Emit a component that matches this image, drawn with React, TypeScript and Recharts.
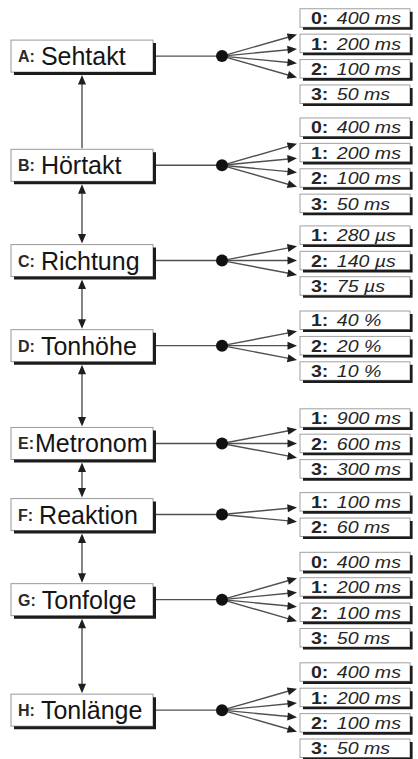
import React from "react";
import { ComposedChart, Scatter, XAxis, YAxis } from "recharts";

// ---------- data ----------
const groupLetters = ["A", "B", "C", "D", "E", "F", "G", "H"];
const groupNames = ["Sehtakt", "Hörtakt", "Richtung", "Tonhöhe", "Metronom", "Reaktion", "Tonfolge", "Tonlänge"];
const labelSpaced = [true, true, true, true, false, true, true, true];
const optionCodes = [
  ["0", "1", "2", "3"],
  ["0", "1", "2", "3"],
  ["1", "2", "3"],
  ["1", "2", "3"],
  ["1", "2", "3"],
  ["1", "2"],
  ["0", "1", "2", "3"],
  ["0", "1", "2", "3"],
];
const optionValues = [
  ["400 ms", "200 ms", "100 ms", "50 ms"],
  ["400 ms", "200 ms", "100 ms", "50 ms"],
  ["280 µs", "140 µs", "75 µs"],
  ["40 %", "20 %", "10 %"],
  ["900 ms", "600 ms", "300 ms"],
  ["100 ms", "60 ms"],
  ["400 ms", "200 ms", "100 ms", "50 ms"],
  ["400 ms", "200 ms", "100 ms", "50 ms"],
];
// row (slot) index of each group's first option
const groupFirstRow = [0, 4.3, 8.55, 11.9, 15.75, 19.05, 21.4, 25.75];
// links between consecutive groups: arrowhead at upper box / at lower box
const linkHeadUp = [true, true, true, true, true, true, true];
const linkHeadDown = [false, true, true, true, true, true, true];

// ---------- layout ----------
const W = 418;
const H = 759;
const ROW_PX = 25.4;
const ROW0_PX = 18;
const COL = { box: 82, dot: 222, option: 355 };
const BOX_W = 142;
const BOX_H = 32;
const OPT_W = 110;
const OPT_H = 18.5;
const LINE = "#505050";
const HEAD = "#1e1e1e";
const FONT = "'Liberation Sans', Arial, Helvetica, sans-serif";

const groupCenter = (i: number) => groupFirstRow[i] + (optionCodes[i].length - 1) / 2;

const groupData = groupLetters.map((letter, i) => ({
  x: COL.box,
  y: groupCenter(i),
  letter,
  name: groupNames[i],
  spaced: labelSpaced[i],
}));
const dotData = groupLetters.map((_, i) => ({ x: COL.dot, y: groupCenter(i) }));
const optionData = optionCodes.flatMap((codes, i) =>
  codes.map((code, j) => ({ x: COL.option, y: groupFirstRow[i] + j, code, value: optionValues[i][j] }))
);

type Conn = {
  key: string;
  pts: { x: number; y: number }[];
  trimStart: number;
  trimEnd: number;
  headStart: boolean;
  headEnd: boolean;
};

const connectors: Conn[] = [];
groupLetters.forEach((_, i) => {
  const c = groupCenter(i);
  connectors.push({
    key: `h${i}`,
    pts: [{ x: COL.box, y: c }, { x: COL.dot, y: c }],
    trimStart: BOX_W / 2 + 1,
    trimEnd: 0,
    headStart: false,
    headEnd: false,
  });
  optionCodes[i].forEach((_, j) => {
    connectors.push({
      key: `o${i}-${j}`,
      pts: [{ x: COL.dot, y: c }, { x: COL.option, y: groupFirstRow[i] + j }],
      trimStart: 0,
      trimEnd: 0,
      headStart: false,
      headEnd: true,
    });
  });
  if (i < groupLetters.length - 1) {
    connectors.push({
      key: `v${i}`,
      pts: [{ x: COL.box, y: c }, { x: COL.box, y: groupCenter(i + 1) }],
      trimStart: BOX_H / 2 + 3,
      trimEnd: BOX_H / 2 + 1,
      headStart: linkHeadUp[i],
      headEnd: linkHeadDown[i],
    });
  }
});

function makeConnector(c: Conn) {
  return (props: any) => {
    const pts = props.points;
    if (!pts || pts.length < 2) return <g />;
    const a = pts[0];
    const b = pts[1];
    const dx = b.x - a.x;
    const dy = b.y - a.y;
    const len = Math.hypot(dx, dy) || 1;
    const ux = dx / len;
    const uy = dy / len;
    let trimEnd = c.trimEnd;
    if (c.key.startsWith("o")) {
      trimEnd = (OPT_W / 2 + 3) / Math.abs(ux);
    }
    const sx = a.x + ux * c.trimStart;
    const sy = a.y + uy * c.trimStart;
    const ex = b.x - ux * trimEnd;
    const ey = b.y - uy * trimEnd;
    const HL = 9.5;
    const HW = 4;
    const head = (tx: number, ty: number, dirx: number, diry: number) => {
      const bx = tx - dirx * HL;
      const by = ty - diry * HL;
      const px = -diry;
      const py = dirx;
      return `${tx},${ty} ${bx + px * HW},${by + py * HW} ${bx - px * HW},${by - py * HW}`;
    };
    const lsx = c.headStart ? sx + ux * (HL - 1) : sx;
    const lsy = c.headStart ? sy + uy * (HL - 1) : sy;
    const lex = c.headEnd ? ex - ux * (HL - 1) : ex;
    const ley = c.headEnd ? ey - uy * (HL - 1) : ey;
    return (
      <g>
        <line x1={lsx} y1={lsy} x2={lex} y2={ley} stroke={LINE} strokeWidth={1.4} />
        {c.headStart && <polygon points={head(sx, sy, -ux, -uy)} fill={HEAD} />}
        {c.headEnd && <polygon points={head(ex, ey, ux, uy)} fill={HEAD} />}
      </g>
    );
  };
}

const emptyShape = () => <g />;

const GroupBox = (props: any) => {
  const { cx, cy, payload } = props;
  const x = cx - BOX_W / 2;
  const y = cy - BOX_H / 2;
  return (
    <g>
      <rect x={x} y={y} width={BOX_W} height={BOX_H} fill="#ffffff" stroke="#9a9a9a" strokeWidth={1} />
      <path
        d={`M${x + 3},${y + BOX_H + 1.5} H${x + BOX_W + 1.5} V${y + 3}`}
        stroke="#1c1c1c"
        strokeWidth={3}
        fill="none"
      />
      <text x={x + 7} y={cy + 9} fontFamily={FONT} fill="#151515">
        <tspan fontWeight="bold" fontSize={16} fill="#2a2a2a" dy={-3}>
          {payload.letter}:
        </tspan>
        <tspan dx={payload.spaced ? 6 : 1} dy={3} fontSize={25}>
          {payload.name}
        </tspan>
      </text>
    </g>
  );
};

const OptionBox = (props: any) => {
  const { cx, cy, payload } = props;
  const x = cx - OPT_W / 2;
  const y = cy - OPT_H / 2;
  return (
    <g>
      <rect x={x} y={y} width={OPT_W} height={OPT_H} fill="#ffffff" stroke="#a0a0a0" strokeWidth={1} />
      <path
        d={`M${x + 3},${y + OPT_H + 1.3} H${x + OPT_W + 1.3} V${y + 3}`}
        stroke="#1c1c1c"
        strokeWidth={2.6}
        fill="none"
      />
      <g transform={`translate(${x + 11},${cy + 6.2}) scale(1.15,1)`}>
        <text x={0} y={0} fontFamily={FONT} fontSize={17} fill="#252525">
          <tspan fontWeight="bold">{payload.code}:</tspan>
          <tspan x={22.5} fontStyle="italic">
            {payload.value}
          </tspan>
        </text>
      </g>
    </g>
  );
};

const Dot = (props: any) => {
  const { cx, cy } = props;
  return <circle cx={cx} cy={cy} r={6} fill="#111" />;
};

export default function App() {
  const yMin = -ROW0_PX / ROW_PX;
  const yMax = (H - ROW0_PX) / ROW_PX;
  return (
    <div style={{ position: "absolute", left: 0, top: 0, width: W, height: H, background: "#fff" }}>
      <ComposedChart width={W} height={H} margin={{ top: 0, right: 0, bottom: 0, left: 0 }}>
        <XAxis type="number" dataKey="x" domain={[0, W]} allowDataOverflow hide />
        <YAxis type="number" dataKey="y" domain={[yMin, yMax]} allowDataOverflow reversed hide width={0} />
        {connectors.map((c) => (
          <Scatter
            key={c.key}
            data={c.pts}
            line={makeConnector(c)}
            lineType="joint"
            shape={emptyShape}
            isAnimationActive={false}
          />
        ))}
        <Scatter data={groupData} shape={GroupBox} isAnimationActive={false} />
        <Scatter data={optionData} shape={OptionBox} isAnimationActive={false} />
        <Scatter data={dotData} shape={Dot} isAnimationActive={false} />
      </ComposedChart>
    </div>
  );
}
